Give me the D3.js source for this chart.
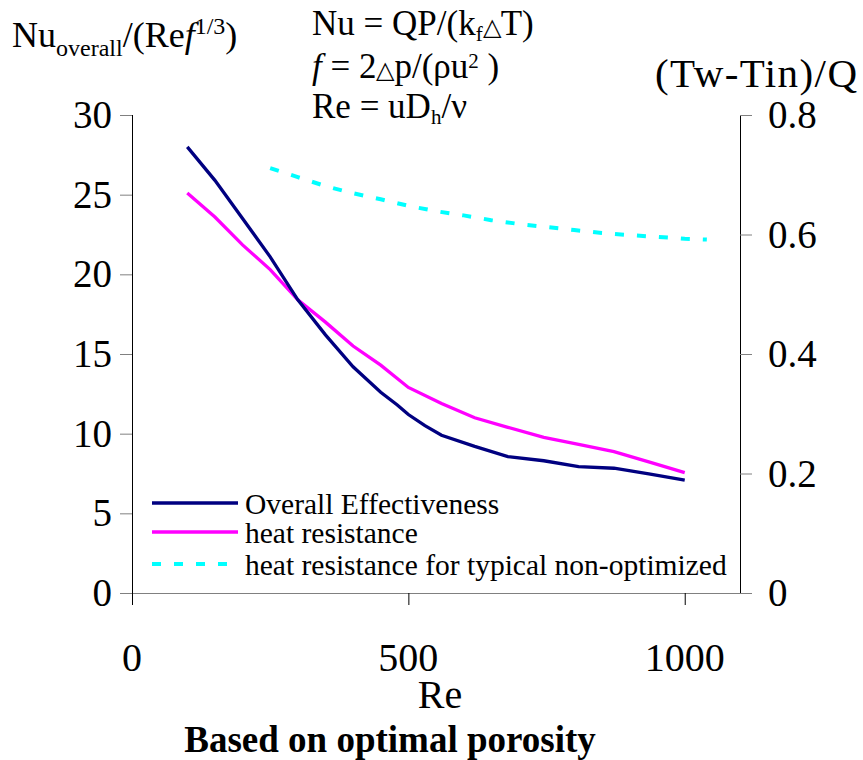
<!DOCTYPE html>
<html><head><meta charset="utf-8">
<script src="https://cdn.jsdelivr.net/npm/d3@7/dist/d3.min.js"></script>
<style>body{margin:0;background:#fff}svg{display:block}text{font-family:"Liberation Serif","Times New Roman",serif;fill:#000}</style>
</head><body>
<svg id="c" width="863" height="760"></svg>
<script>
// Data
const overallRe  = [100,150,200,250,300,350,400,450,480,500,530,560,620,680,745,808,872,935,1000];
const overallVal = [28,25.9,23.5,21.1,18.4,16.2,14.2,12.6,11.8,11.2,10.5,9.9,9.2,8.56,8.3,7.93,7.83,7.47,7.09];
const heatRe  = [100,150,200,250,300,350,400,450,500,560,620,680,745,808,872,938,1000];
const heatVal = [25.1,23.6,21.85,20.3,18.4,17.0,15.5,14.3,12.9,11.9,11.0,10.4,9.77,9.33,8.87,8.2,7.55];
const typRe  = [250,300,350,400,450,500,550,600,650,700,750,800,850,900,950,1000,1040];
const typVal = [0.711,0.696,0.681,0.669,0.659,0.648,0.639,0.632,0.624,0.6176,0.6125,0.6075,0.6025,0.599,0.596,0.593,0.5915];
const xTicks = [0,500,1000];
const yLeftTicks = [0,5,10,15,20,25,30];
const yRightTicks = [0,0.2,0.4,0.6,0.8];
const legendLabels = ["Overall Effectiveness","heat resistance","heat resistance for typical non-optimized"];

const svg = d3.select("#c");
const x = d3.scaleLinear().domain([0,1100]).range([132,740]);
const yL = d3.scaleLinear().domain([0,30]).range([593,115]);
const yR = d3.scaleLinear().domain([0,0.8]).range([593,115]);

// axes
const gx = svg.append("g").attr("transform","translate(0,593)")
  .call(d3.axisBottom(x).tickValues(xTicks).tickSize(12).tickFormat(""));
gx.select(".domain").attr("d","M132,0.5H752").attr("stroke","#808080");
gx.selectAll(".tick line").attr("stroke","#000");
const gl = svg.append("g").attr("transform","translate(132,0)")
  .call(d3.axisLeft(yL).tickValues(yLeftTicks).tickSize(12).tickFormat(""));
gl.select(".domain").attr("d","M0.5,593V115").attr("stroke","#000");
gl.selectAll(".tick line").attr("stroke","#808080");
const gr = svg.append("g").attr("transform","translate(740,0)")
  .call(d3.axisRight(yR).tickValues(yRightTicks).tickSize(12).tickFormat(""));
gr.select(".domain").attr("d","M0.5,593V115").attr("stroke","#000");
gr.selectAll(".tick line").attr("stroke","#808080");

// tick labels
svg.selectAll(".xl").data(xTicks).enter().append("text")
  .attr("x",d=>x(d)).attr("y",671).attr("text-anchor","middle").attr("font-size",40).text(d=>d);
svg.selectAll(".yl").data(yLeftTicks).enter().append("text")
  .attr("x",112).attr("y",d=>yL(d)+13).attr("text-anchor","end").attr("font-size",39).text(d=>d);
svg.selectAll(".yr").data(yRightTicks).enter().append("text")
  .attr("x",768).attr("y",d=>yR(d)+13).attr("text-anchor","start").attr("font-size",39).text(d=>d===0?"0":d.toFixed(1));

// lines
const lineL = d3.line().x(d=>x(d[0])).y(d=>yL(d[1]));
const lineR = d3.line().x(d=>x(d[0])).y(d=>yR(d[1]));
svg.append("path").attr("d",lineL(d3.zip(heatRe,heatVal))).attr("fill","none").attr("stroke","#FF00FF").attr("stroke-width",3.3);
svg.append("path").attr("d",lineL(d3.zip(overallRe,overallVal))).attr("fill","none").attr("stroke","#000080").attr("stroke-width",3.3);
svg.append("path").attr("d",lineR(d3.zip(typRe,typVal))).attr("fill","none").attr("stroke","#00FFFF").attr("stroke-width",4).attr("stroke-dasharray","9,13");

// legend
const legColors = ["#000080","#FF00FF","#00FFFF"];
const legY = [503,532,564];
legendLabels.forEach((t,i)=>{
  svg.append("line").attr("x1",152).attr("x2",238).attr("y1",legY[i]).attr("y2",legY[i])
    .attr("stroke",legColors[i]).attr("stroke-width",i===2?4:3.3).attr("stroke-dasharray",i===2?"9,13":null);
  svg.append("text").attr("x",245).attr("y",legY[i]+11).attr("font-size",29.5).text(t);
});

// axis titles
svg.append("text").attr("x",440).attr("y",708).attr("text-anchor","middle").attr("font-size",40).text("Re");
svg.append("text").attr("x",390).attr("y",752).attr("text-anchor","middle").attr("font-size",37).attr("font-weight","bold").text("Based on optimal porosity");

// left title
const tl = svg.append("text").attr("x",12).attr("y",47).attr("font-size",36);
tl.append("tspan").text("Nu");
tl.append("tspan").attr("font-size",24).attr("dy",9).text("overall");
tl.append("tspan").attr("dy",-9).text("/(Re");
tl.append("tspan").attr("font-style","italic").text("f");
tl.append("tspan").attr("font-size",24).attr("dy",-13).text("1/3");
tl.append("tspan").attr("dy",13).text(")");

// right title
svg.append("text").attr("x",655).attr("y",87).attr("font-size",41)
  .attr("textLength",202).attr("lengthAdjust","spacing").text("(Tw-Tin)/Q");

// formulas
const f1 = svg.append("text").attr("x",312).attr("y",35).attr("font-size",35);
f1.append("tspan").text("Nu = QP/(k");
f1.append("tspan").attr("font-size",21).attr("dy",6).text("f");
f1.append("tspan").attr("dy",-6).attr("font-size",24).text("\u25B3");
f1.append("tspan").text("T)");
const f2 = svg.append("text").attr("x",312).attr("y",78).attr("font-size",35);
f2.append("tspan").attr("font-style","italic").text("f");
f2.append("tspan").text(" = 2");
f2.append("tspan").attr("font-size",24).text("\u25B3");
f2.append("tspan").text("p/(\u03C1u");
f2.append("tspan").attr("font-size",21).attr("dy",-10).text("2");
f2.append("tspan").attr("dy",10).text(" )");
const f3 = svg.append("text").attr("x",312).attr("y",118).attr("font-size",35);
f3.append("tspan").text("Re = uD");
f3.append("tspan").attr("font-size",21).attr("dy",6).text("h");
f3.append("tspan").attr("dy",-6).text("/\u03BD");
</script>
</body></html>
